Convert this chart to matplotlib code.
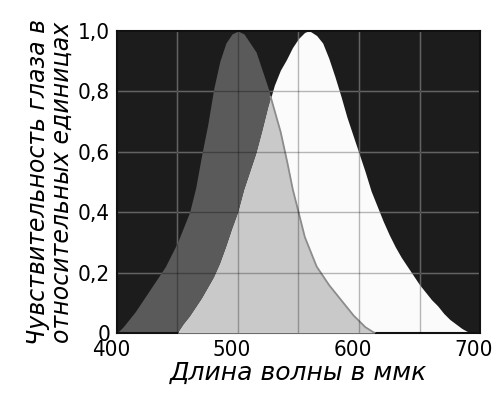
import matplotlib
matplotlib.use("Agg")
import matplotlib.pyplot as plt
import matplotlib.transforms as mtransforms
import numpy as np

# wavelength, nm  /  relative eye sensitivity
# dark grey curve (twilight vision)
rod_wl = [400, 405, 410, 415, 420, 425, 430, 435, 440, 445, 450, 455, 460,
          465, 470, 475, 480, 485, 490, 495, 500, 505, 510, 515, 520, 525,
          530, 535, 540, 545, 550, 555, 560, 565, 570, 575, 580, 585, 590,
          595, 600, 605, 610, 613]
rod_v = [0.0, 0.02, 0.045, 0.07, 0.10, 0.13, 0.16, 0.19, 0.22, 0.26, 0.30,
         0.35, 0.40, 0.48, 0.59, 0.69, 0.81, 0.90, 0.96, 0.99, 1.0, 0.99,
         0.96, 0.93, 0.87, 0.81, 0.74, 0.67, 0.58, 0.48, 0.40, 0.32, 0.27,
         0.22, 0.19, 0.16, 0.135, 0.11, 0.085, 0.06, 0.04, 0.02, 0.007, 0.0]

# white curve (daylight vision)
cone_wl = [450, 455, 460, 465, 470, 475, 480, 485, 490, 495, 500, 505, 510,
           515, 520, 525, 530, 535, 540, 545, 550, 555, 558, 560, 565, 570,
           575, 580, 585, 590, 595, 600, 605, 610, 615, 620, 625, 630, 635,
           640, 645, 650, 655, 660, 665, 670, 675, 680, 685, 690, 692]
cone_v = [0.0, 0.03, 0.055, 0.085, 0.115, 0.15, 0.185, 0.23, 0.285, 0.345,
          0.40, 0.475, 0.535, 0.595, 0.67, 0.75, 0.82, 0.87, 0.905, 0.945,
          0.975, 0.995, 1.0, 0.998, 0.985, 0.96, 0.91, 0.85, 0.785, 0.715,
          0.655, 0.595, 0.535, 0.47, 0.42, 0.37, 0.325, 0.285, 0.25, 0.22,
          0.19, 0.16, 0.135, 0.11, 0.09, 0.065, 0.045, 0.03, 0.015, 0.004, 0.0]

x_ticks = [400, 500, 600, 700]
x_labels = ["400", "500", "600", "700"]
y_ticks = [0, 0.2, 0.4, 0.6, 0.8, 1.0]
y_labels = ["0", "0,2", "0,4", "0,6", "0,8", "1,0"]
grid_x = [450, 500, 550, 600, 650]
grid_y = [0.2, 0.4, 0.6, 0.8]

fig = plt.figure(figsize=(4.97, 4.03), dpi=100)
ax = fig.add_axes([0.2354, 0.1737, 0.7304, 0.7494])
ax.set_facecolor("#1c1c1c")

# common wavelength grid so the overlap can be found
wl = np.linspace(400, 700, 1201)
rod = np.interp(wl, rod_wl, rod_v, left=0, right=0)
cone = np.interp(wl, cone_wl, cone_v, left=0, right=0)

# light grid seen on the black background
for xv in grid_x:
    ax.axvline(xv, color="#8a8a8a", lw=1.0, zorder=0.5)
for yv in grid_y:
    ax.axhline(yv, color="#8a8a8a", lw=1.0, zorder=0.5)

ax.fill_between(wl, 0, rod, color="#5a5a5a", lw=0, zorder=1)
ax.fill_between(wl, 0, cone, color="#fbfbfb", lw=0, zorder=2)
ax.fill_between(wl, 0, np.minimum(rod, cone), color="#c9c9c9", lw=0, zorder=3)
# grey edge of the dark curve across the white area
mask = (wl >= 527) & (wl <= 613)
ax.plot(wl[mask], rod[mask], color="#8c8c8c", lw=1.3, zorder=4)

# darker grid over the filled areas
for xv in grid_x:
    ax.axvline(xv, color="black", alpha=0.28, lw=1.0, zorder=5)
for yv in grid_y:
    ax.axhline(yv, color="black", alpha=0.28, lw=1.0, zorder=5)

ax.set_xlim(400, 700)
ax.set_ylim(0, 1.0)
ax.set_xticks(x_ticks)
ax.set_xticklabels(x_labels, fontsize=16, fontstretch="condensed")
ax.set_yticks(y_ticks)
ax.set_yticklabels(y_labels, fontsize=16, fontstretch="condensed")
ax.tick_params(length=0, pad=5)
# labels in the print sit a little left of their grid lines
shift = mtransforms.ScaledTranslation(-6 / 100, 0, fig.dpi_scale_trans)
for lab in ax.get_xticklabels():
    lab.set_transform(lab.get_transform() + shift)
for s in ax.spines.values():
    s.set_color("#111111")
    s.set_linewidth(1.5)

ax.set_xlabel("Длина волны в ммк", fontsize=18, style="italic", labelpad=1)
ax.set_ylabel("Чувствительность глаза в\nотносительных единицах",
              fontsize=17, style="italic", labelpad=3, linespacing=1.0)

fig.savefig("out.png", dpi=100)
